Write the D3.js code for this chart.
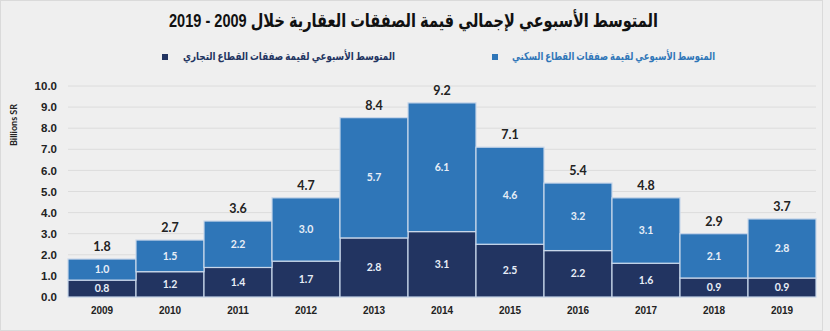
<!DOCTYPE html>
<html>
<head>
<meta charset="utf-8">
<script src="https://cdn.jsdelivr.net/npm/d3@7"></script>
<style>
  body { margin: 0; background: #efefef; }
  svg { display: block; font-family: Lato, "DejaVu Sans", sans-serif; }
</style>
</head>
<body>
<div id="chart"></div>
<script>
// Chart data
const years = ["2009", "2010", "2011", "2012", "2013", "2014", "2015", "2016", "2017", "2018", "2019"];
const commercial = [0.8, 1.2, 1.4, 1.7, 2.8, 3.1, 2.5, 2.2, 1.6, 0.9, 0.9];
const residential = [1.0, 1.5, 2.2, 3.0, 5.7, 6.1, 4.6, 3.2, 3.1, 2.1, 2.8];
const totals = [1.8, 2.7, 3.6, 4.7, 8.4, 9.2, 7.1, 5.4, 4.8, 2.9, 3.7];
const yTicks = [0, 1, 2, 3, 4, 5, 6, 7, 8, 9, 10];

const titleText = "المتوسط الأسبوعي لإجمالي قيمة الصفقات العقارية خلال 2009 - 2019";
const resLabel = "المتوسط الأسبوعي لقيمة صفقات القطاع السكني";
const comLabel = "المتوسط الأسبوعي لقيمة صفقات القطاع التجاري";

const W = 830, H = 331;
const margin = { top: 86, right: 14, bottom: 34, left: 68 };
const width = W - margin.left - margin.right;
const height = H - margin.top - margin.bottom;

const darkBlue = "#223461";
const lightBlue = "#2f76b8";

const svg = d3.select("#chart")
    .append("svg")
    .attr("width", W)
    .attr("height", H);

svg.append("rect")
    .attr("x", 0.5).attr("y", 0.5)
    .attr("width", W - 8).attr("height", H - 1)
    .attr("fill", "#efefef")
    .attr("stroke", "#dadada");

const g = svg.append("g")
    .attr("transform", `translate(${margin.left},${margin.top})`);

const x = d3.scaleBand()
    .domain(years)
    .range([0, width])
    .padding(0);

const y = d3.scaleLinear()
    .domain([0, 10])
    .range([height, 0]);

// gridlines
g.append("g")
    .selectAll("line")
    .data(yTicks)
    .join("line")
    .attr("x1", 0)
    .attr("x2", width)
    .attr("y1", d => y(d))
    .attr("y2", d => y(d))
    .attr("stroke", "#dcdcdc")
    .attr("stroke-width", 1);

// y axis
const yAxis = g.append("g")
    .call(d3.axisLeft(y).tickValues(yTicks).tickFormat(d3.format(".1f")).tickSize(0).tickPadding(11));
yAxis.select(".domain").remove();
yAxis.selectAll("text")
    .attr("fill", "#222")
    .style("font-size", "11.5px")
    .style("font-weight", "bold");

// x axis
const xAxis = g.append("g")
    .attr("transform", `translate(0,${height})`)
    .call(d3.axisBottom(x).tickSize(0).tickPadding(10));
xAxis.select(".domain").remove();
xAxis.selectAll("text")
    .attr("fill", "#222")
    .style("font-size", "10px")
    .style("font-weight", "bold");

// stacked bars
const rows = years.map((yr, i) => ({ year: yr, com: commercial[i], res: residential[i], total: totals[i] }));
const stack = d3.stack().keys(["com", "res"]);
const series = stack(rows);
const colors = { com: darkBlue, res: lightBlue };

const layers = g.append("g")
    .selectAll("g")
    .data(series)
    .join("g")
    .attr("fill", d => colors[d.key]);

layers.selectAll("rect")
    .data(d => d)
    .join("rect")
    .attr("x", d => x(d.data.year))
    .attr("width", x.bandwidth())
    .attr("y", d => y(d[1]))
    .attr("height", d => y(d[0]) - y(d[1]))
    .attr("stroke", "#c9d7ea")
    .attr("stroke-width", 1.2);

// segment labels
layers.selectAll("text")
    .data(d => d)
    .join("text")
    .attr("x", d => x(d.data.year) + x.bandwidth() / 2)
    .attr("y", d => (y(d[0]) + y(d[1])) / 2)
    .attr("dy", "0.35em")
    .attr("text-anchor", "middle")
    .attr("fill", "#e8eef7")
    .style("font-size", "10.5px")
    .style("font-weight", "bold")
    .text(d => d3.format(".1f")(d[1] - d[0]));

// totals
g.append("g")
    .selectAll("text")
    .data(rows)
    .join("text")
    .attr("x", d => x(d.year) + x.bandwidth() / 2)
    .attr("y", d => y(d.com + d.res) - 8)
    .attr("text-anchor", "middle")
    .attr("fill", "#222")
    .style("font-size", "12.5px")
    .style("font-weight", "bold")
    .text(d => d3.format(".1f")(d.total));

// y label
svg.append("text")
    .attr("transform", "translate(17,125) rotate(-90)")
    .attr("text-anchor", "middle")
    .attr("fill", "#222")
    .style("font-size", "9px")
    .style("font-weight", "bold")
    .text("Billions SR");

// title
svg.append("text")
    .attr("x", 658)
    .attr("y", 27)
    .attr("direction", "rtl")
    .attr("text-anchor", "start")
    .attr("textLength", 489)
    .attr("lengthAdjust", "spacingAndGlyphs")
    .attr("fill", "#111")
    .style("font-family", "'Liberation Sans', 'DejaVu Sans', sans-serif")
    .style("font-size", "19px")
    .style("font-weight", "bold")
    .text(titleText);

// legend
const legend = [
    { label: resLabel, color: lightBlue, textX: 715, len: 203, sq: 492 },
    { label: comLabel, color: darkBlue, textX: 395, len: 212, sq: 162 }
];
legend.forEach(l => {
    svg.append("text")
        .attr("x", l.textX)
        .attr("y", 60)
        .attr("direction", "rtl")
        .attr("text-anchor", "start")
        .attr("textLength", l.len)
        .attr("lengthAdjust", "spacingAndGlyphs")
        .attr("fill", l.color)
        .style("font-size", "11px")
        .style("font-weight", "bold")
        .text(l.label);
    svg.append("rect")
        .attr("x", l.sq).attr("y", 54)
        .attr("width", 6).attr("height", 6)
        .attr("fill", l.color);
});
</script>
</body>
</html>
